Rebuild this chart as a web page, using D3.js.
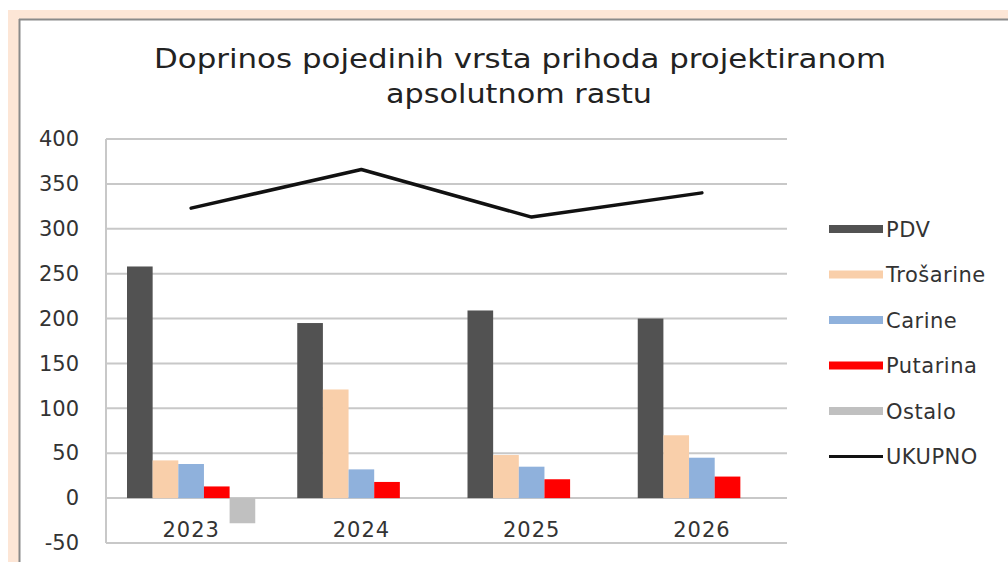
<!DOCTYPE html>
<html>
<head>
<meta charset="utf-8">
<script src="https://cdn.jsdelivr.net/npm/d3@7"></script>
<style>
  body { margin: 0; background: #fff; }
  svg { display: block; font-family: "DejaVu Sans", sans-serif; }
</style>
</head>
<body>
<svg width="1008" height="562"></svg>
<script>
// data
var years = ["2023", "2024", "2025", "2026"];
var series = ["PDV", "Trošarine", "Carine", "Putarina", "Ostalo"];
var pdv = [258, 195, 209, 200];
var trosarine = [42, 121, 48, 70];
var carine = [38, 32, 35, 45];
var putarina = [13, 18, 21, 24];
var ostalo = [-28, 0, 0, 0];
var ukupno = [323, 366, 313, 340];
var yTicks = [-50, 0, 50, 100, 150, 200, 250, 300, 350, 400];
var colors = ["#525252", "#f9cfaa", "#8fb1dc", "#ff0000", "#c0c0c0"];

var values = [pdv, trosarine, carine, putarina, ostalo];

var svg = d3.select("svg");

// outer frame
svg.append("rect").attr("x", 8).attr("y", 10).attr("width", 1000).attr("height", 552).attr("fill", "#fde6d6");
svg.append("rect").attr("x", 19).attr("y", 19).attr("width", 989).attr("height", 543).attr("fill", "#fff");
svg.append("line").attr("x1", 19).attr("x2", 1008).attr("y1", 19.5).attr("y2", 19.5).attr("stroke", "#8a8a8a").attr("stroke-width", 2);
svg.append("line").attr("x1", 19.5).attr("x2", 19.5).attr("y1", 19).attr("y2", 562).attr("stroke", "#8a8a8a").attr("stroke-width", 2);

// title (the reference is stretched sideways, so fit each line to its width)
svg.append("text")
  .attr("x", 520).attr("y", 68)
  .attr("text-anchor", "middle")
  .attr("font-size", "26px")
  .attr("textLength", 732)
  .attr("lengthAdjust", "spacingAndGlyphs")
  .attr("fill", "#222")
  .text("Doprinos pojedinih vrsta prihoda projektiranom");
svg.append("text")
  .attr("x", 519).attr("y", 103)
  .attr("text-anchor", "middle")
  .attr("font-size", "26px")
  .attr("textLength", 266)
  .attr("lengthAdjust", "spacingAndGlyphs")
  .attr("fill", "#222")
  .text("apsolutnom rastu");

var x0 = d3.scaleBand().domain(years).range([106, 787]);
var x1 = d3.scaleBand().domain(series).range([21, x0.bandwidth() - 21]);
var y = d3.scaleLinear().domain([-50, 400]).range([543, 139]);

// gridlines
svg.append("g").selectAll("line")
  .data(yTicks)
  .enter().append("line")
  .attr("x1", 106).attr("x2", 787)
  .attr("y1", function(d) { return y(d); })
  .attr("y2", function(d) { return y(d); })
  .attr("stroke", "#c8c8c8")
  .attr("stroke-width", 2);
svg.append("line")
  .attr("x1", 106).attr("x2", 106)
  .attr("y1", y(400)).attr("y2", y(-50))
  .attr("stroke", "#c8c8c8")
  .attr("stroke-width", 2);

// y axis labels
var yAxis = svg.append("g")
  .attr("transform", "translate(79,0)")
  .call(d3.axisLeft(y).tickValues(yTicks).tickSize(0).tickPadding(0)
    .tickFormat(function(d) { return String(d); }));
yAxis.select(".domain").remove();
yAxis.selectAll("text").attr("font-size", "21px").attr("fill", "#333").attr("font-family", "DejaVu Sans");

// bars
var groups = svg.append("g").selectAll("g")
  .data(years)
  .enter().append("g")
  .attr("transform", function(d) { return "translate(" + x0(d) + ",0)"; });

groups.selectAll("rect")
  .data(function(d, i) {
    return series.map(function(s, j) { return { key: s, value: values[j][i], color: colors[j] }; });
  })
  .enter().append("rect")
  .attr("x", function(d) { return x1(d.key); })
  .attr("y", function(d) { return y(Math.max(0, d.value)); })
  .attr("width", x1.bandwidth())
  .attr("height", function(d) { return Math.abs(y(d.value) - y(0)); })
  .attr("fill", function(d) { return d.color; });

// x axis labels
var xAxis = svg.append("g")
  .attr("transform", "translate(0," + 522 + ")")
  .call(d3.axisBottom(x0).tickSize(0).tickPadding(0));
xAxis.select(".domain").remove();
xAxis.selectAll("text").attr("font-size", "21px").attr("letter-spacing", "1px").attr("fill", "#333").attr("font-family", "DejaVu Sans");

// total line
var line = d3.line()
  .x(function(d, i) { return x0(years[i]) + x0.bandwidth() / 2; })
  .y(function(d) { return y(d); });
svg.append("path")
  .datum(ukupno)
  .attr("d", line)
  .attr("fill", "none")
  .attr("stroke", "#111")
  .attr("stroke-width", 3.5)
  .attr("stroke-linejoin", "round")
  .attr("stroke-linecap", "round");

// legend
var legendNames = series.concat(["UKUPNO"]);
var legend = svg.append("g").selectAll("g")
  .data(legendNames)
  .enter().append("g")
  .attr("transform", function(d, i) { return "translate(829," + (229 + i * 45.5) + ")"; });
legend.filter(function(d, i) { return i < 5; })
  .append("rect")
  .attr("x", 0).attr("y", -4)
  .attr("width", 54).attr("height", 8)
  .attr("fill", function(d, i) { return colors[i]; });
legend.filter(function(d, i) { return i == 5; })
  .append("line")
  .attr("x1", 0).attr("x2", 54)
  .attr("stroke", "#111").attr("stroke-width", 3);
legend.append("text")
  .attr("x", 57).attr("y", 0)
  .attr("dy", "0.36em")
  .attr("font-size", "21px")
  .attr("letter-spacing", "0.5px")
  .attr("fill", "#333")
  .text(function(d) { return d; });
</script>
</body>
</html>
